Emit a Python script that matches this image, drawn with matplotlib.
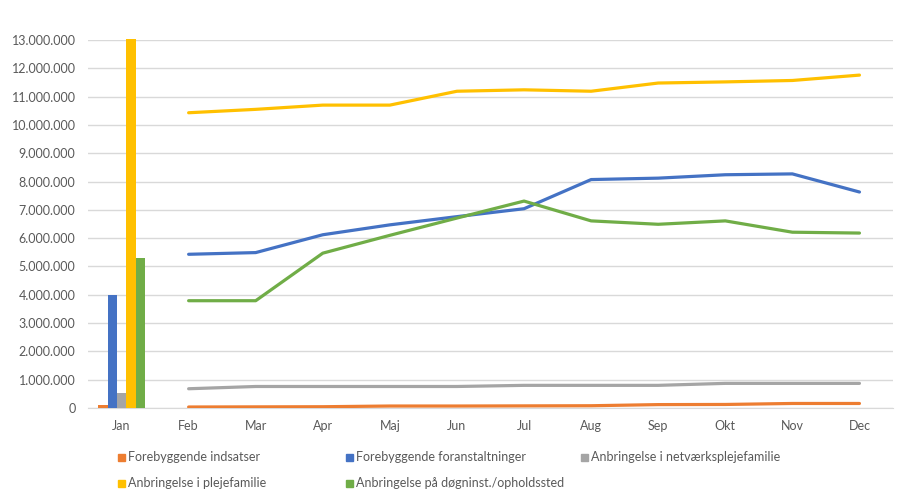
import matplotlib
matplotlib.use("Agg")
import matplotlib.pyplot as plt
import numpy as np
from matplotlib.patches import Rectangle
from matplotlib.ticker import FuncFormatter

months = ["Jan", "Feb", "Mar", "Apr", "Maj", "Jun", "Jul", "Aug", "Sep", "Okt", "Nov", "Dec"]
series_names = [
    "Forebyggende indsatser",
    "Forebyggende foranstaltninger",
    "Anbringelse i netværksplejefamilie",
    "Anbringelse i plejefamilie",
    "Anbringelse på døgninst./opholdssted",
]
colors = ["#ED7D31", "#4472C4", "#A5A5A5", "#FFC000", "#70AD47"]

# January values (bars)
jan_values = [120000, 4000000, 530000, 13030000, 5300000]

# Feb-Dec values (lines)
forebyggende_indsatser = [35000, 40000, 45000, 70000, 70000, 75000, 80000, 120000, 125000, 160000, 160000]
forebyggende_foranstaltninger = [5430000, 5490000, 6120000, 6470000, 6760000, 7040000, 8070000, 8120000, 8240000, 8270000, 7630000]
netvaerksplejefamilie = [680000, 760000, 760000, 760000, 760000, 800000, 800000, 800000, 870000, 870000, 870000]
plejefamilie = [10430000, 10550000, 10700000, 10700000, 11190000, 11240000, 11190000, 11480000, 11520000, 11570000, 11760000]
doegninst = [3790000, 3790000, 5470000, 6100000, 6710000, 7310000, 6610000, 6490000, 6610000, 6210000, 6180000]

line_series = [forebyggende_indsatser, forebyggende_foranstaltninger, netvaerksplejefamilie, plejefamilie, doegninst]
yticks = np.arange(0, 13000001, 1000000)

plt.rcParams['font.family'] = ['Lato', 'DejaVu Sans']
fig = plt.figure(figsize=(9.02, 4.97), dpi=100)
ax = fig.add_axes([88/902, 1-408/497, (893-88)/902, (408-40)/497])

x = np.arange(len(months))
bw = 0.139
for i, (v, c) in enumerate(zip(jan_values, colors)):
    ax.bar(x[0] + (i-2)*bw, v, width=bw, color=c, zorder=3, clip_on=False)

for s, c in zip(line_series, colors):
    ax.plot(x[1:], s, color=c, lw=2.3, zorder=4, solid_capstyle='round')

ax.set_xlim(-0.5, 11.5)
ax.set_ylim(0, 13000000)
ax.set_yticks(yticks)
ax.yaxis.set_major_formatter(FuncFormatter(lambda v, p: f"{int(v):,}".replace(",", ".")))
ax.set_xticks(x)
ax.set_xticklabels(months)
ax.grid(axis='y', color='#D9D9D9', lw=1, zorder=0)
for sp in ["top", "right", "left"]:
    ax.spines[sp].set_visible(False)
ax.spines["bottom"].set_color("#D9D9D9")
ax.tick_params(axis='both', length=0, colors='#595959', labelsize=9)
ax.tick_params(axis='y', pad=9)
ax.tick_params(axis='x', pad=9)

# manual legend
positions = [(118, 457), (346, 457), (581, 457), (118, 483), (346, 483)]
for (px, py), name, c in zip(positions, series_names, colors):
    fig.patches.append(Rectangle((px/902, 1-(py+3.5)/497), 7/902, 7/497,
                                 transform=fig.transFigure, color=c))
    fig.text((px+10)/902, 1-py/497, name, fontsize=9, color='#595959', va='center', ha='left')

fig.savefig("out.png", dpi=100)
